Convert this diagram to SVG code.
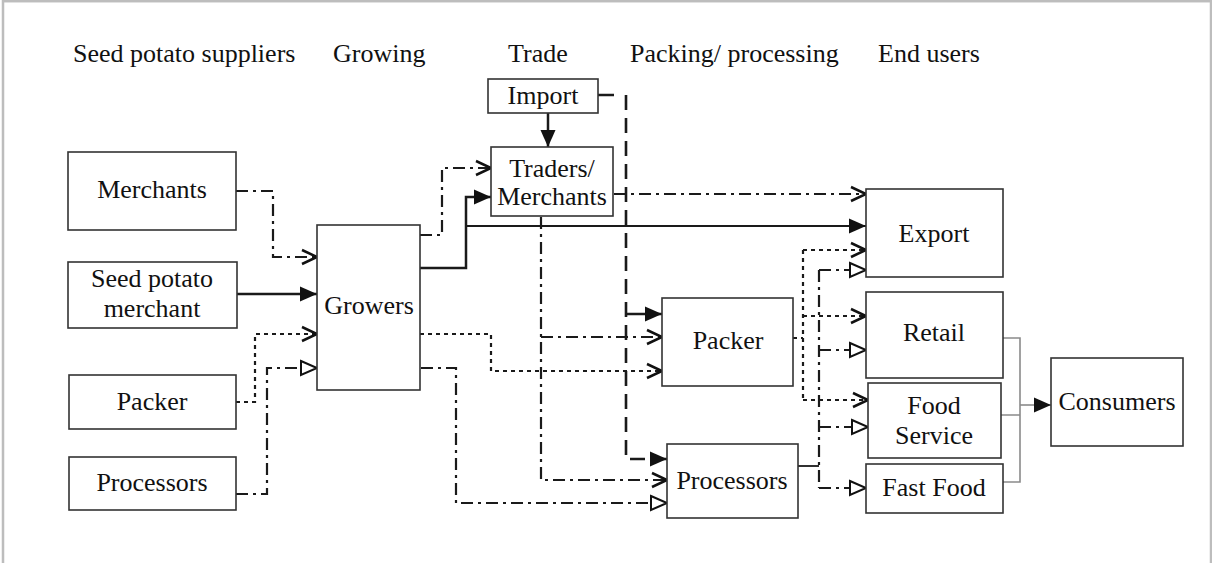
<svg xmlns="http://www.w3.org/2000/svg" width="1212" height="563" viewBox="0 0 1212 563">
<style>
  .box { fill: #fff; stroke: #333; stroke-width: 1.6; }
  .t { font-family: "Liberation Serif", "DejaVu Serif", serif; font-size: 26px; fill: #111; }
  .c { text-anchor: middle; }
  .ln { fill: none; stroke: #1a1a1a; }
  .solid { stroke-width: 2.5; }
  .dd { stroke-width: 2.2; stroke-dasharray: 12 5 3 5; }
  .dot { stroke-width: 2.2; stroke-dasharray: 4 4; }
  .dash { stroke-width: 2.6; stroke-dasharray: 15 8; }
  .gray { stroke: #8a8a8a; stroke-width: 1.6; }
</style>
<defs>
  <marker id="fill" markerUnits="userSpaceOnUse" markerWidth="18" markerHeight="16" refX="17" refY="8" orient="auto" overflow="visible">
    <path d="M0,0.5 L17,8 L0,15.5 z" fill="#111" stroke="none"/>
  </marker>
  <marker id="vee" markerUnits="userSpaceOnUse" markerWidth="18" markerHeight="16" refX="16" refY="8" orient="auto" overflow="visible">
    <path d="M1,1 L16,8 L1,15" fill="none" stroke="#111" stroke-width="2.5" stroke-dasharray="none"/>
  </marker>
  <marker id="tri" markerUnits="userSpaceOnUse" markerWidth="18" markerHeight="16" refX="17" refY="8" orient="auto" overflow="visible">
    <path d="M1,1 L17,8 L1,15 z" fill="#fff" stroke="#111" stroke-width="2" stroke-dasharray="none"/>
  </marker>
</defs>
<rect x="0" y="0" width="1212" height="563" fill="#fff"/>
<rect x="3" y="1.2" width="1208" height="620" fill="none" stroke="#bdbdbd" stroke-width="2.5"/>

<g id="headers" class="t" font-family="Liberation Serif, serif">
  <text x="73" y="62">Seed potato suppliers</text>
  <text x="333" y="62">Growing</text>
  <text x="508" y="62">Trade</text>
  <text x="630" y="62">Packing/ processing</text>
  <text x="878" y="62">End users</text>
</g>

<g id="connectors">
  <path class="ln solid" d="M237,294 H317" marker-end="url(#fill)"/>
  <path class="ln solid" d="M420,268 H466 V197 H491" marker-end="url(#fill)"/>
  <path class="ln solid" d="M466,226 H866" marker-end="url(#fill)" style="stroke-width:2"/>
  <path class="ln solid" d="M548,113 V147" marker-end="url(#fill)"/>
  <path class="ln solid" d="M626,314 H662" marker-end="url(#fill)"/>
  <path class="ln solid" d="M598,95 H614"/>
  <path class="ln dash" d="M626,95 V459 H667" marker-end="url(#fill)"/>
  <path class="ln dd" d="M236,191 H273 V257 H317" marker-end="url(#vee)"/>
  <path class="ln dd" d="M420,235 H442 V168 H491" marker-end="url(#vee)"/>
  <path class="ln dd" d="M614,194 H866" marker-end="url(#vee)"/>
  <path class="ln dd" d="M541,217 V480 H667" marker-end="url(#vee)"/>
  <path class="ln dd" d="M541,337 H662" marker-end="url(#vee)"/>
  <path class="ln dd" d="M421,368 H456 V503 H667" marker-end="url(#tri)"/>
  <path class="ln dd" d="M236,494 H267 V368 H317" marker-end="url(#tri)"/>
  <path class="ln solid" d="M798,466 H819" style="stroke-width:1.8"/>
  <path class="ln dd" d="M819,270 V488"/>
  <path class="ln dd" d="M819,270 H866" marker-end="url(#tri)"/>
  <path class="ln dd" d="M819,350 H866" marker-end="url(#tri)"/>
  <path class="ln dd" d="M819,427 H868" marker-end="url(#tri)"/>
  <path class="ln dd" d="M819,488 H866" marker-end="url(#tri)"/>
  <path class="ln dot" d="M236,402 H255 V334 H317" marker-end="url(#vee)"/>
  <path class="ln dot" d="M420,334 H491 V371 H662" marker-end="url(#vee)"/>
  <path class="ln dot" d="M793,338 H803"/>
  <path class="ln dot" d="M803,250 V400"/>
  <path class="ln dot" d="M803,250 H866" marker-end="url(#vee)"/>
  <path class="ln dot" d="M803,316 H866" marker-end="url(#vee)"/>
  <path class="ln dot" d="M803,400 H868" marker-end="url(#vee)"/>
  <path class="ln gray" d="M1003,338 H1020 V482 H1003 M1001,415 H1020"/>
  <path class="ln gray" d="M1020,405 H1051" marker-end="url(#fill)"/>
</g>

<g class="t" font-family="Liberation Serif, serif">
<g id="merchants"><rect class="box" x="68" y="152" width="168" height="78"/><text class="c" x="152" y="198">Merchants</text></g>
<g id="seed-potato-merchant"><rect class="box" x="68" y="262" width="169" height="66"/><text class="c" x="152" y="287">Seed potato</text><text class="c" x="152" y="317">merchant</text></g>
<g id="packer-left"><rect class="box" x="69" y="375" width="167" height="54"/><text class="c" x="152" y="410">Packer</text></g>
<g id="processors-left"><rect class="box" x="69" y="457" width="167" height="53"/><text class="c" x="152" y="491">Processors</text></g>
<g id="growers"><rect class="box" x="317" y="225" width="103" height="165"/><text class="c" x="369" y="314">Growers</text></g>
<g id="import"><rect class="box" x="488" y="79" width="110" height="34"/><text class="c" x="543" y="104">Import</text></g>
<g id="traders"><rect class="box" x="491" y="147" width="122" height="69"/><text class="c" x="552" y="177">Traders/</text><text class="c" x="552" y="205">Merchants</text></g>
<g id="export"><rect class="box" x="866" y="189" width="137" height="88"/><text class="c" x="934" y="242">Export</text></g>
<g id="packer-right"><rect class="box" x="662" y="298" width="131" height="88"/><text class="c" x="728" y="349">Packer</text></g>
<g id="retail"><rect class="box" x="866" y="292" width="137" height="86"/><text class="c" x="934" y="341">Retail</text></g>
<g id="food-service"><rect class="box" x="868" y="383" width="133" height="75"/><text class="c" x="934" y="414">Food</text><text class="c" x="934" y="444">Service</text></g>
<g id="fast-food"><rect class="box" x="866" y="464" width="137" height="49"/><text class="c" x="934" y="496">Fast Food</text></g>
<g id="processors-right"><rect class="box" x="667" y="444" width="131" height="74"/><text class="c" x="732" y="489">Processors</text></g>
<g id="consumers"><rect class="box" x="1051" y="358" width="132" height="88"/><text class="c" x="1117" y="410">Consumers</text></g>
</g>
</svg>
